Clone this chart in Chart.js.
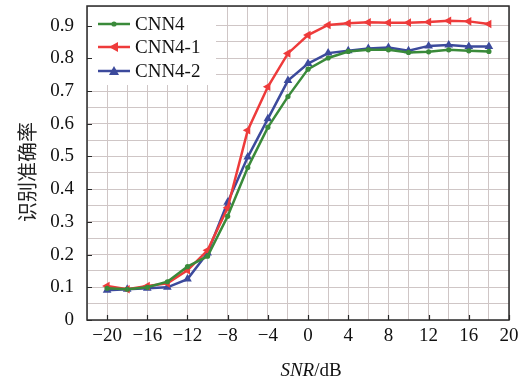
<!DOCTYPE html>
<html>
<head>
<meta charset="utf-8">
<script src="https://cdn.jsdelivr.net/npm/chart.js@4/dist/chart.umd.min.js"></script>
<style>
  html, body { margin: 0; padding: 0; background: #fff; }
  #wrap { width: 524px; height: 385px; position: relative; }
</style>
</head>
<body>
<div id="wrap"><canvas id="chart" width="524" height="385"></canvas></div>
<script>
// SNR 取值（dB）
const snr = [-20, -18, -16, -14, -12, -10, -8, -6, -4, -2, 0, 2, 4, 6, 8, 10, 12, 14, 16, 18];

// 三种网络的识别准确率
const cnn4 = [0.097, 0.094, 0.1, 0.117, 0.163, 0.195, 0.317, 0.466, 0.589, 0.683, 0.767, 0.801, 0.821, 0.826, 0.826, 0.818, 0.82, 0.826, 0.823, 0.821];
const cnn4_1 = [0.104, 0.094, 0.104, 0.112, 0.152, 0.213, 0.343, 0.58, 0.713, 0.815, 0.871, 0.902, 0.907, 0.91, 0.909, 0.909, 0.911, 0.915, 0.913, 0.905];
const cnn4_2 = [0.091, 0.094, 0.097, 0.1, 0.125, 0.205, 0.36, 0.498, 0.615, 0.732, 0.784, 0.816, 0.823, 0.83, 0.833, 0.823, 0.838, 0.841, 0.836, 0.836];

const xTickLabels = [-20, -16, -12, -8, -4, 0, 4, 8, 12, 16, 20];
const yTickLabels = [0, 0.1, 0.2, 0.3, 0.4, 0.5, 0.6, 0.7, 0.8, 0.9];

const seriesNames = ["CNN4", "CNN4-1", "CNN4-2"];
const colors = ["#3a8a3a", "#ee3b3b", "#3c4a9c"];

const serif = "'Liberation Serif', 'Times New Roman', serif";

function pts(arr) {
  return snr.map((x, i) => ({ x: x, y: arr[i] }));
}

function fmt(v) {
  const s = Number.isInteger(v) ? String(v) : v.toFixed(1);
  return s.replace("-", "\u2212");
}

// 画标记
function drawMarker(ctx, kind, x, y, color) {
  ctx.save();
  ctx.fillStyle = color;
  ctx.beginPath();
  if (kind === "circle") {
    ctx.arc(x, y, 2.6, 0, Math.PI * 2);
  } else if (kind === "left") {
    ctx.moveTo(x - 5, y);
    ctx.lineTo(x + 4, y - 5);
    ctx.lineTo(x + 4, y + 5);
    ctx.closePath();
  } else {
    ctx.moveTo(x, y - 5);
    ctx.lineTo(x + 5, y + 4);
    ctx.lineTo(x - 5, y + 4);
    ctx.closePath();
  }
  ctx.fill();
  ctx.restore();
}

const decor = {
  id: "decor",
  afterDraw(chart) {
    const ctx = chart.ctx;
    const a = chart.chartArea;
    const xs = chart.scales.x, ys = chart.scales.y;
    ctx.save();

    // 图例底色
    ctx.fillStyle = "#fff";
    ctx.fillRect(a.left + 1, a.top + 1, 128, 78);

    // 边框
    ctx.strokeStyle = "#2a2a2a";
    ctx.lineWidth = 1.5;
    ctx.strokeRect(a.left, a.top, a.right - a.left, a.bottom - a.top);

    // 内向刻度
    ctx.lineWidth = 1.2;
    ctx.beginPath();
    xTickLabels.forEach(v => {
      const px = Math.round(xs.getPixelForValue(v)) + 0.5;
      ctx.moveTo(px, a.bottom);
      ctx.lineTo(px, a.bottom - 5);
    });
    yTickLabels.forEach(v => {
      const py = Math.round(ys.getPixelForValue(v)) + 0.5;
      ctx.moveTo(a.left, py);
      ctx.lineTo(a.left + 5, py);
    });
    ctx.stroke();

    // 图例
    const kinds = ["circle", "left", "up"];
    const rows = [24, 47, 71];
    ctx.font = "19px " + serif;
    ctx.textBaseline = "middle";
    for (let i = 0; i < 3; i++) {
      ctx.strokeStyle = colors[i];
      ctx.lineWidth = 2.5;
      ctx.beginPath();
      ctx.moveTo(98, rows[i]);
      ctx.lineTo(130, rows[i]);
      ctx.stroke();
      drawMarker(ctx, kinds[i], 114, rows[i], colors[i]);
      ctx.fillStyle = "#111";
      ctx.fillText(seriesNames[i], 135, rows[i] + 1);
    }

    // x 轴标题：SNR 斜体
    ctx.fillStyle = "#111";
    ctx.textBaseline = "alphabetic";
    ctx.font = "italic 19px " + serif;
    const w1 = ctx.measureText("SNR").width;
    ctx.font = "19px " + serif;
    const w2 = ctx.measureText("/dB").width;
    const x0 = 311 - (w1 + w2) / 2;
    ctx.font = "italic 19px " + serif;
    ctx.fillText("SNR", x0, 376);
    ctx.font = "19px " + serif;
    ctx.fillText("/dB", x0 + w1, 376);

    // y 轴标题
    ctx.translate(27, 172);
    ctx.rotate(-Math.PI / 2);
    ctx.font = "20px 'Noto Sans CJK SC'";
    ctx.textAlign = "center";
    ctx.textBaseline = "middle";
    ctx.fillStyle = "#222";
    ctx.fillText("识别准确率", 0, 0);
    ctx.restore();
  }
};

new Chart(document.getElementById("chart"), {
  type: "line",
  data: {
    datasets: [
      {
        label: seriesNames[0], data: pts(cnn4),
        borderColor: colors[0], backgroundColor: colors[0],
        borderWidth: 2.5, pointStyle: "circle", pointRadius: 2.6,
        pointBorderWidth: 0, tension: 0
      },
      {
        label: seriesNames[1], data: pts(cnn4_1),
        borderColor: colors[1], backgroundColor: colors[1],
        borderWidth: 2.5, pointStyle: "triangle", pointRotation: -90, pointRadius: 5,
        pointBorderWidth: 0, tension: 0
      },
      {
        label: seriesNames[2], data: pts(cnn4_2),
        borderColor: colors[2], backgroundColor: colors[2],
        borderWidth: 2.5, pointStyle: "triangle", pointRadius: 5,
        pointBorderWidth: 0, tension: 0
      }
    ]
  },
  options: {
    responsive: false,
    animation: false,
    devicePixelRatio: 1,
    layout: { padding: { top: 6, right: 15, left: 0, bottom: 0 } },
    plugins: { legend: { display: false }, tooltip: { enabled: false } },
    scales: {
      x: {
        type: "linear", min: -22, max: 20,
        afterFit: s => { s.height = 65; s.paddingLeft = 0; s.paddingRight = 0; },
        grid: { color: "#cfc6c6", lineWidth: 1, drawTicks: false },
        border: { display: false },
        ticks: {
          stepSize: 2, padding: 5, autoSkip: false, maxRotation: 0,
          color: "#111", font: { family: serif, size: 19 },
          callback: v => (Math.abs(v % 4) < 1e-9 ? fmt(v) : "")
        }
      },
      y: {
        min: 0, max: 0.96,
        afterFit: s => { s.width = 87; s.paddingTop = 0; s.paddingBottom = 0; },
        grid: { color: "#cfc6c6", lineWidth: 1, drawTicks: false },
        border: { display: false },
        ticks: {
          stepSize: 0.05, padding: 13, autoSkip: false,
          color: "#111", font: { family: serif, size: 19 },
          callback: v => {
            const r = Math.round(v * 100);
            return (r % 10 === 0 && r <= 90) ? fmt(r / 100) : "";
          }
        }
      }
    }
  },
  plugins: [decor]
});
</script>
</body>
</html>
